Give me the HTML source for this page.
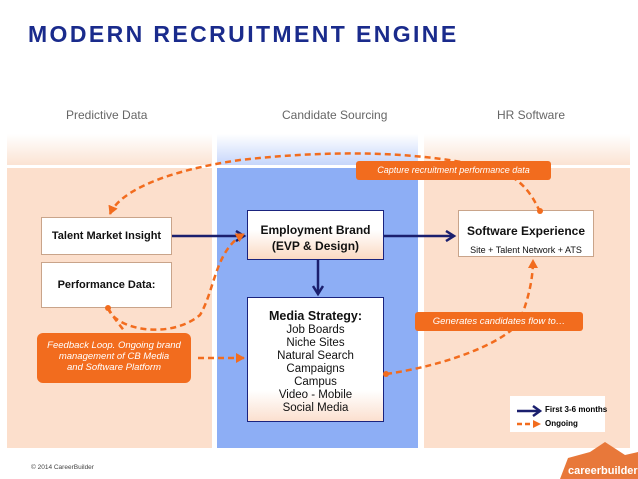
<!DOCTYPE html>
<html><head><style>
body{margin:0;width:638px;height:479px;background:#fff;position:relative;overflow:hidden;font-family:"Liberation Sans",sans-serif}
.a{position:absolute}
.h{color:#666;font-size:12px;top:108px}
.box{position:absolute;background:#fff;border:1px solid #c9a48a;box-sizing:border-box;text-align:center;color:#111}
</style></head><body>
<div class="a" style="left:28px;top:21px;font-size:23px;font-weight:bold;color:#1a2b8c;letter-spacing:2.4px">MODERN RECRUITMENT ENGINE</div>
<div class="a h" style="left:66px">Predictive Data</div>
<div class="a h" style="left:282px">Candidate Sourcing</div>
<div class="a h" style="left:497px">HR Software</div>
<div class="a" style="left:7px;top:134px;width:205px;height:31px;background:linear-gradient(#fff,#fbe3d3)"></div>
<div class="a" style="left:424px;top:134px;width:206px;height:31px;background:linear-gradient(#fff,#fbe3d3)"></div>
<div class="a" style="left:217px;top:134px;width:201px;height:31px;background:linear-gradient(#fff,#c6d6fb)"></div>
<div class="a" style="left:7px;top:168px;width:205px;height:280px;background:#fcdfcc"></div>
<div class="a" style="left:424px;top:168px;width:206px;height:280px;background:#fcdfcc"></div>
<div class="a" style="left:217px;top:168px;width:201px;height:280px;background:#8daef5"></div>

<svg class="a" style="left:0;top:0" width="638" height="479">
<defs>
<marker id="n" markerUnits="userSpaceOnUse" markerWidth="12" markerHeight="12" refX="9" refY="6" orient="auto"><path d="M1,1 L9,6 L1,11" fill="none" stroke="#1a1f6e" stroke-width="2.5"/></marker>
<marker id="o" markerUnits="userSpaceOnUse" markerWidth="10" markerHeight="10" refX="8" refY="5" orient="auto"><path d="M0,0 L9,5 L0,10 Z" fill="#f26c1e"/></marker>
</defs>
<g stroke="#1a1f6e" stroke-width="2.5" fill="none">
<path d="M172 236 H244" marker-end="url(#n)"/>
<path d="M384 236 H454" marker-end="url(#n)"/>
<path d="M318 260 V294" marker-end="url(#n)"/>
</g>
<g stroke="#f26c1e" stroke-width="2.5" fill="none" stroke-dasharray="6,4">
<path d="M540 212 C530 190 520 180 500 170 C420 150 330 150 240 160 C170 170 120 190 110 214" marker-end="url(#o)"/>
<path d="M108 308 C115 330 170 340 200 315 C215 290 215 250 244 234" marker-end="url(#o)"/>
<path d="M108 308 C115 320 120 325 125 332"/>
<path d="M198 358 H244" marker-end="url(#o)"/>
<path d="M386 374 C450 365 510 340 520 320 C528 300 533 280 533 260" marker-end="url(#o)"/>
</g>
</svg>

<div class="box" style="left:41px;top:217px;width:131px;height:38px;font-size:11px;font-weight:bold;line-height:36px">Talent Market Insight</div>
<div class="box" style="left:41px;top:262px;width:131px;height:46px;font-size:11px;font-weight:bold;padding-top:16px">Performance Data:</div>
<div class="box" style="left:247px;top:210px;width:137px;height:50px;border:1px solid #1a237e;background:linear-gradient(#fff 40%,#fbd9c2);font-size:12px;font-weight:bold;padding-top:11px;line-height:16px">Employment Brand<br>(EVP &amp; Design)</div>
<div class="box" style="left:247px;top:297px;width:137px;height:125px;border:1px solid #1a237e;background:linear-gradient(#fff 75%,#fbe0cf);font-size:11.5px;line-height:13px;padding-top:12px"><b style="font-size:12.5px">Media Strategy:</b><br>Job Boards<br>Niche Sites<br>Natural Search<br>Campaigns<br>Campus<br>Video - Mobile<br>Social Media</div>
<div class="box" style="left:458px;top:210px;width:136px;height:47px;padding-top:11px"><b style="font-size:12px">Software Experience</b><br><span style="font-size:9px">Site + Talent Network + ATS</span></div>

<div class="a" style="left:356px;top:161px;width:195px;height:19px;background:#f26c1e;border-radius:3px;color:#fff;font-size:9px;font-style:italic;text-align:center;line-height:19px">Capture recruitment performance data</div>
<div class="a" style="left:415px;top:312px;width:168px;height:19px;background:#f26c1e;border-radius:3px;color:#fff;font-size:9.5px;font-style:italic;text-align:center;line-height:19px">Generates candidates flow to…</div>
<div class="a" style="left:37px;top:333px;width:154px;height:50px;background:#f26c1e;border-radius:6px;color:#fff;font-size:9.5px;font-style:italic;text-align:center;line-height:11px;padding-top:7px;box-sizing:border-box">Feedback Loop. Ongoing brand<br>management of CB Media<br>and Software Platform</div>

<div class="a" style="left:510px;top:396px;width:95px;height:36px;background:#fff"></div>
<svg class="a" style="left:510px;top:396px" width="40" height="36">
<path d="M7 15 H28" stroke="#1a1f6e" stroke-width="2.5" fill="none"/><path d="M23 10 L30 15 L23 20" stroke="#1a1f6e" stroke-width="2.5" fill="none"/>
<path d="M7 28 H24" stroke="#f26c1e" stroke-width="2.5" stroke-dasharray="5,3"/><path d="M23 24 L31 28 L23 32Z" fill="#f26c1e"/>
</svg>
<div class="a" style="left:545px;top:405px;font-size:8px;font-weight:bold">First 3-6 months</div>
<div class="a" style="left:545px;top:419px;font-size:8px;font-weight:bold">Ongoing</div>

<svg class="a" style="left:0;top:0;pointer-events:none" width="638" height="479">
<circle cx="540" cy="211" r="3" fill="#f26c1e"/>
<circle cx="108" cy="308" r="3" fill="#f26c1e"/>
<circle cx="386" cy="374" r="3" fill="#f26c1e"/>
<path d="M560 479 L568 458 L590 452 L605 442 L625 455 L638 452 L638 479 Z" fill="#e8783a"/>
<text x="568" y="474" font-family="Liberation Sans" font-size="11" fill="#fff" font-weight="bold">careerbuilder</text>
</svg>
<div class="a" style="left:31px;top:464px;font-size:6.5px;color:#444">© 2014 CareerBuilder</div>
</body></html>
